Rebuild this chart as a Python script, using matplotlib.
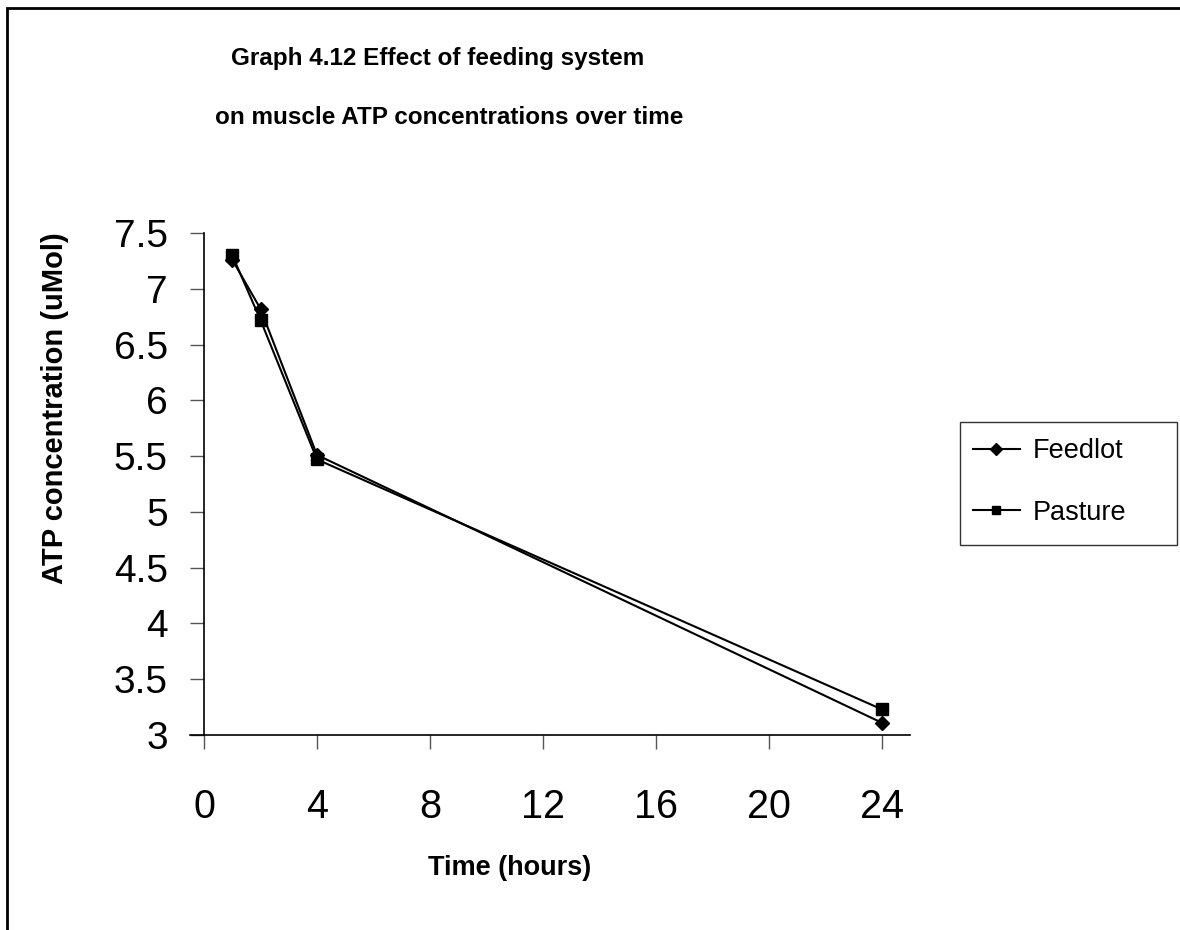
import matplotlib
matplotlib.use("Agg")
import matplotlib.pyplot as plt
from matplotlib.patches import Rectangle

# time after slaughter (hours)
hours = [1, 2, 4, 24]
feedlot = [7.26, 6.82, 5.51, 3.11]
pasture = [7.30, 6.72, 5.47, 3.23]

x_ticks = [0, 4, 8, 12, 16, 20, 24]
y_ticks = [3, 3.5, 4, 4.5, 5, 5.5, 6, 6.5, 7, 7.5]

plt.rcParams['font.family'] = ['Liberation Sans', 'DejaVu Sans']

W, H = 1180, 930
fig = plt.figure(figsize=(W / 100, H / 100), dpi=100)
ax = fig.add_axes([0.1729, 0.2097, 0.5983, 0.5398])

ax.plot(hours, feedlot, color='black', lw=1.5, marker='D', ms=7.5, label='Feedlot')
ax.plot(hours, pasture, color='black', lw=1.5, marker='s', ms=8, label='Pasture')

ax.set_xlim(0, 25)
ax.set_ylim(3, 7.5)
ax.set_xticks(x_ticks)
ax.set_yticks(y_ticks)
ax.set_yticklabels([('%g' % v) for v in y_ticks])
ax.tick_params(length=10, width=1, color='#555555')
ax.tick_params(axis='x', labelsize=28.5, pad=28)
ax.tick_params(axis='y', labelsize=28, pad=16)

for s in ['top', 'right']:
    ax.spines[s].set_visible(False)
ax.spines['left'].set_linewidth(1.2)
ax.spines['bottom'].set_linewidth(1.2)
ax.spines['bottom'].set_bounds(-0.5, 25)
ax.spines['bottom'].set_clip_on(False)

# axis titles placed like the original sheet
fig.text(510 / W, 1 - 868 / H, 'Time (hours)', ha='center', va='center',
         fontsize=19.5, fontweight='bold')
fig.text(55 / W, 1 - 408 / H, 'ATP concentration (uMol)', ha='center', va='center',
         rotation=90, fontsize=21, fontweight='bold')

fig.text(438 / W, 1 - 59 / H, 'Graph 4.12 Effect of feeding system', ha='center', va='center',
         fontsize=17.5, fontweight='bold')
fig.text(449 / W, 1 - 117 / H, 'on muscle ATP concentrations over time', ha='center', va='center',
         fontsize=17.5, fontweight='bold')

leg = fig.legend(loc='center left', bbox_to_anchor=(973 / W, 1 - 482 / H), fontsize=19.5,
                 frameon=False, handlelength=1.73, handletextpad=0.48, labelspacing=1.3,
                 borderpad=0, borderaxespad=0, markerscale=0.75)
fig.add_artist(Rectangle((960 / W, 1 - 545 / H), 217 / W, 123 / H,
                         transform=fig.transFigure, fill=False, lw=1.0, ec='#333333'))

# outer border of the chart area
fig.add_artist(Rectangle((7 / W, -0.1), 1.2, 1 - 8 / H + 0.1,
                         transform=fig.transFigure, fill=False, lw=2, ec='black'))

fig.savefig('out.png', dpi=100, facecolor='white')
